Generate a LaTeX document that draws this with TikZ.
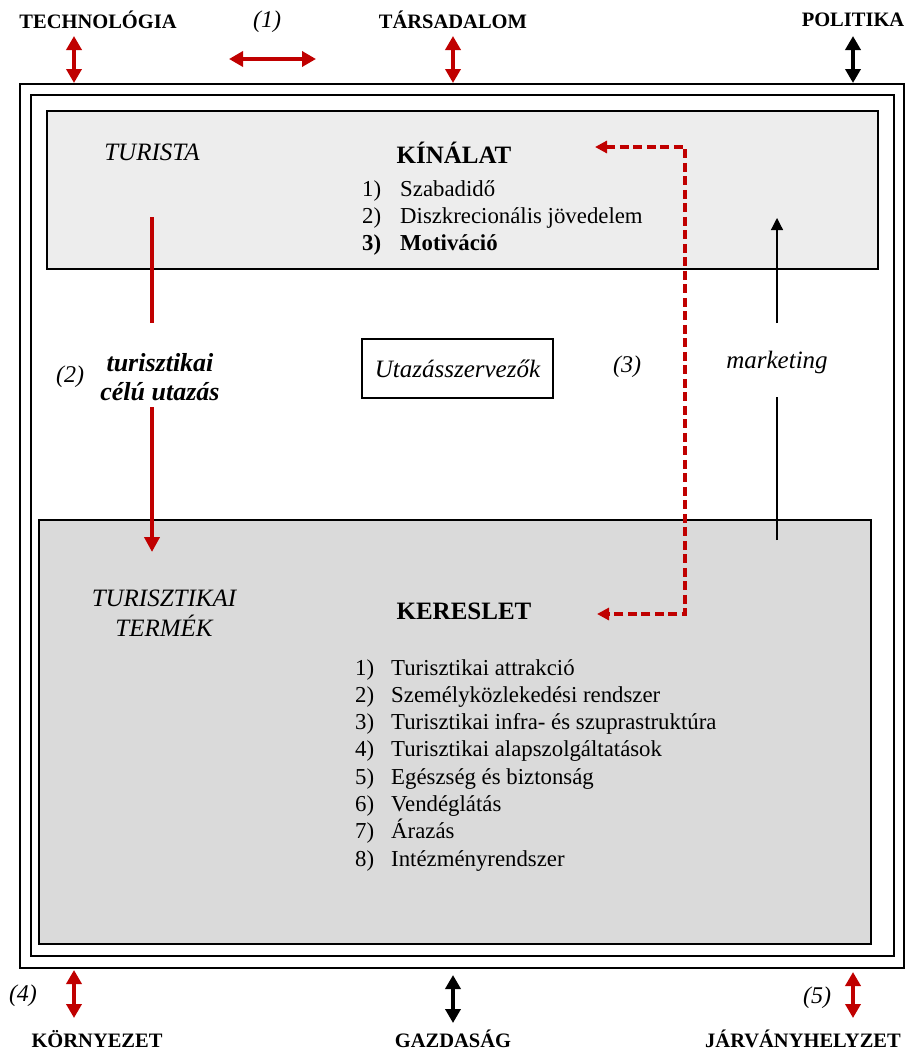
\documentclass[tikz,border=0pt]{standalone}
\usepackage{fontspec}
\setmainfont{Liberation Serif}
\usetikzlibrary{arrows.meta,positioning}
\definecolor{piros}{HTML}{C00000}
\definecolor{kinszurke}{HTML}{EDEDED}
\definecolor{kerszurke}{HTML}{DADADA}

\begin{document}
\begin{tikzpicture}[
  x=1pt, y=-1pt,
  keret/.style={draw, line width=2pt},
  cimke/.style={font=\fontsize{20.5}{24}\selectfont\bfseries, inner sep=0pt},
  szam/.style={font=\fontsize{24}{28}\selectfont\itshape, inner sep=0pt},
  cim/.style={font=\fontsize{25}{29}\selectfont\bfseries, inner sep=0pt},
  dolt/.style={font=\fontsize{25}{30}\selectfont\itshape, inner sep=0pt},
  tetel/.style={font=\fontsize{22.8}{27}\selectfont, anchor=base west, inner sep=0pt},
  hatas/.style={line width=4.5pt, {Triangle[length=14pt,width=15pt]}-{Triangle[length=14pt,width=15pt]}},
  pirosnyil/.style={piros, line width=4.5pt},
  szaggatott/.style={piros, line width=3.5pt, dash pattern=on 9pt off 4.5pt,
                     {Triangle[length=12pt,width=12pt]}-{Triangle[length=12pt,width=12pt]}},
  vekony/.style={line width=1.2pt}
]
\useasboundingbox (0,0) rectangle (906,1052);

% keretek
\draw[keret] (20,84) rectangle (904,968);
\draw[keret] (31,95) rectangle (894,956);
\draw[keret, fill=kinszurke] (47,111) rectangle (878,269);
\draw[keret, fill=kerszurke] (39,520) rectangle (871,944);

% kornyezeti tenyezok
\node[cimke] (tech) at (98,20) {TECHNOLÓGIA};
\node[cimke] (tars) at (453,20) {TÁRSADALOM};
\node[cimke] (pol) at (853,20) {POLITIKA};
\node[cimke] (korny) at (97,1039) {KÖRNYEZET};
\node[cimke] (gazd) at (453,1039) {GAZDASÁG};
\node[cimke] (jarv) at (803,1039) {JÁRVÁNYHELYZET};
\node[szam] (sz1) at (267,22) {(1)};
\node[szam] (sz4) at (23,996) {(4)};
\node[szam] (sz5) at (817,998) {(5)};

\coordinate (techA) at (74,36);  \coordinate (techB) at (74,83);
\coordinate (tarsA) at (453,36); \coordinate (tarsB) at (453,83);
\coordinate (polA) at (853,36);  \coordinate (polB) at (853,83);
\coordinate (kornyA) at (74,970);  \coordinate (kornyB) at (74,1018);
\coordinate (gazdA) at (453,975);  \coordinate (gazdB) at (453,1023);
\coordinate (jarvA) at (853,972);  \coordinate (jarvB) at (853,1018);
\coordinate (egyA) at (229,59);  \coordinate (egyB) at (316,59);

\draw[hatas, piros] (techA) -- (techB);
\draw[hatas, piros] (tarsA) -- (tarsB);
\draw[hatas, black] (polA) -- (polB);
\draw[hatas, piros] (kornyA) -- (kornyB);
\draw[hatas, black] (gazdA) -- (gazdB);
\draw[hatas, piros] (jarvA) -- (jarvB);
\draw[hatas, piros] (egyA) -- (egyB);

% kinalat
\node[dolt] (turista) at (152,152) {TURISTA};
\node[cim] (kinalat) at (454,153) {KÍNÁLAT};
\foreach \i/\txt/\fnt in {1/Szabadidő/\mdseries, 2/Diszkrecionális jövedelem/\mdseries, 3/Motiváció/\bfseries}{
  \node[tetel, font=\fontsize{22.8}{27}\selectfont\fnt] (kin\i) at (362,{196+27*(\i-1)}) {\i)};
  \node[tetel, font=\fontsize{22.8}{27}\selectfont\fnt] at (400,{196+27*(\i-1)}) {\txt};
}

% kozepso resz
\node[dolt, font=\fontsize{26}{29}\selectfont\bfseries\itshape, align=center] (utazas) at (160,377) {turisztikai\\célú utazás};
\node[szam] (sz2) at (70,377) {(2)};
\node[draw, line width=1.5pt, minimum width=191pt, minimum height=59pt, font=\fontsize{25}{30}\selectfont\itshape] (szervezo) at (457.5,368.5) {Utazásszervezők};
\node[szam] (sz3) at (627,367) {(3)};
\node[dolt] (mark) at (777,362) {marketing};

\coordinate (tvA) at (152,217); \coordinate (tvB) at (152,323);
\coordinate (tvC) at (152,407); \coordinate (tvD) at (152,552);
\draw[pirosnyil] (tvA) -- (tvB);
\draw[pirosnyil, -{Triangle[length=15pt,width=15pt]}] (tvC) -- (tvD);

\coordinate (mkA) at (777,540); \coordinate (mkB) at (777,397);
\coordinate (mkC) at (777,323); \coordinate (mkD) at (777,218);
\draw[vekony] (mkA) -- (mkB);
\draw[vekony, -{Triangle[length=12pt,width=12pt]}] (mkC) -- (mkD);

\coordinate (dA) at (595,147); \coordinate (dB) at (685,147);
\coordinate (dC) at (685,614); \coordinate (dD) at (597,614);
\draw[szaggatott] (dA) -- (dB) -- (dC) -- (dD);

% kereslet
\node[dolt, align=center] (termek) at (164,613) {TURISZTIKAI\\TERMÉK};
\node[cim] (kereslet) at (464,611) {KERESLET};
\foreach \i/\txt in {1/Turisztikai attrakció, 2/Személyközlekedési rendszer, 3/Turisztikai infra- és szuprastruktúra, 4/Turisztikai alapszolgáltatások, 5/Egészség és biztonság, 6/Vendéglátás, 7/Árazás, 8/Intézményrendszer}{
  \node[tetel] (ker\i) at (355,{675+27.3*(\i-1)}) {\i)};
  \node[tetel] at (391,{675+27.3*(\i-1)}) {\txt};
}
\end{tikzpicture}
\end{document}
